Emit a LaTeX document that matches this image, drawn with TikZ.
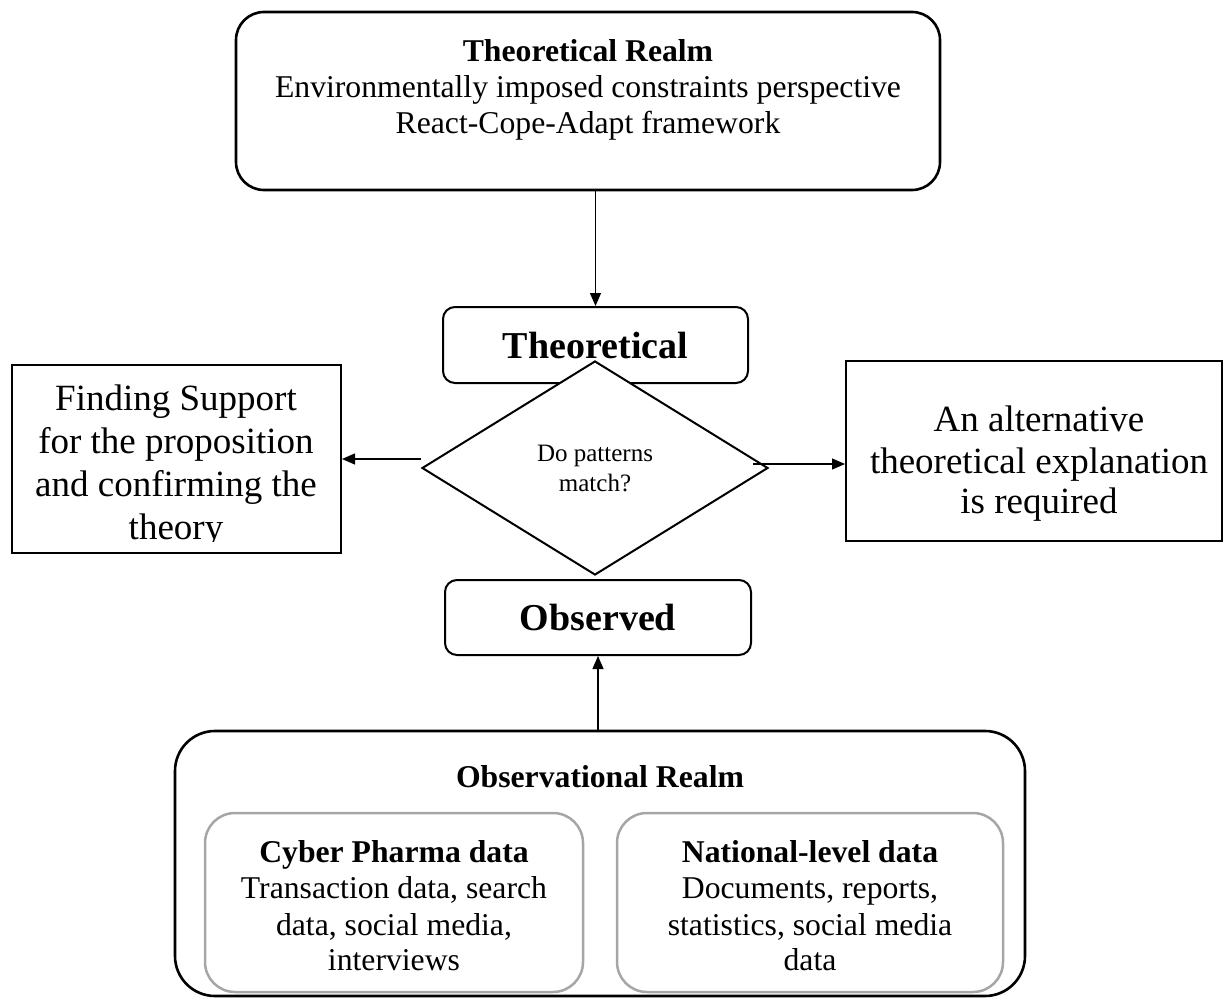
\documentclass[tikz,border=0pt]{standalone}
\usepackage{fontspec}
\setmainfont{Liberation Serif}
\usetikzlibrary{shapes.geometric,arrows.meta}
\begin{document}
\begin{tikzpicture}[x=1pt,y=-1pt,
  bigbox/.style={draw, line width=2.6pt, rounded corners=28pt, inner sep=0pt},
  outerbox/.style={draw, line width=2.6pt, rounded corners=40pt, inner sep=0pt},
  smallbox/.style={draw, line width=2pt, rounded corners=12pt, inner sep=0pt, font=\fontsize{38}{43}\selectfont\bfseries},
  plainbox/.style={draw, line width=2pt, inner sep=0pt},
  graybox/.style={draw=black!35, line width=2.5pt, rounded corners=30pt, inner sep=0pt},
  decision/.style={diamond, draw, line width=2pt, fill=white, inner sep=0pt, align=center, font=\fontsize{25}{30}\selectfont},
  arr/.style={-{Triangle[length=13pt,width=11pt]}, line width=1.2pt},
  txt/.style={anchor=base, inner sep=0pt},
  midf/.style={font=\fontsize{31.7}{36}\selectfont},
  bigf/.style={font=\fontsize{37}{43}\selectfont}
]
\useasboundingbox (0,0) rectangle (1224,998);

% top box
\node[bigbox, minimum width=704pt, minimum height=178pt] (top) at (588,101) {};
\node[txt, midf] (t1) at (588,62) {\bfseries Theoretical Realm};
\node[txt, midf] (t2) at (588,97) {Environmentally imposed constraints perspective};
\node[txt, midf] (t3) at (588,133) {React-Cope-Adapt framework};

% theoretical / observed
\node[smallbox, minimum width=305pt, minimum height=76pt] (theo) at (595.5,345) {Theoretical};
\node[smallbox, minimum width=306pt, minimum height=75pt] (obs) at (598,617.5) {Observed};

% decision diamond
\node[decision, minimum width=346pt, minimum height=214pt] (dia) at (595,468) {Do patterns\\match?};

% left box
\node[plainbox, minimum width=329pt, minimum height=188pt] (fs) at (176.5,459) {};
\begin{scope}
\clip (12,365) rectangle (341,541);
\node[txt, bigf] (f1) at (176,410) {Finding Support};
\node[txt, bigf] (f2) at (176,453) {for the proposition};
\node[txt, bigf] (f3) at (176,496) {and confirming the};
\node[txt, bigf] (f4) at (176,539) {theory};
\end{scope}

% right box
\node[plainbox, minimum width=376pt, minimum height=180pt] (alt) at (1034,451) {};
\node[txt, bigf] (a1) at (1039,431) {An alternative};
\node[txt, bigf] (a2) at (1039,473) {theoretical explanation};
\node[txt, bigf] (a3) at (1039,513) {is required};

% observational realm
\node[outerbox, minimum width=850pt, minimum height=265pt] (outer) at (600,863.5) {};
\node[txt, midf] (o1) at (600,787) {\bfseries Observational Realm};

\node[graybox, minimum width=378pt, minimum height=179pt] (cyber) at (394,902.5) {};
\node[txt, midf] (c1) at (394,862) {\bfseries Cyber Pharma data};
\node[txt, midf] (c2) at (394,898) {Transaction data, search};
\node[txt, midf] (c3) at (394,935) {data, social media,};
\node[txt, midf] (c4) at (394,970) {interviews};

\node[graybox, minimum width=386pt, minimum height=179pt] (nat) at (810,902.5) {};
\node[txt, midf] (n1) at (810,862) {\bfseries National-level data};
\node[txt, midf] (n2) at (810,898) {Documents, reports,};
\node[txt, midf] (n3) at (810,935) {statistics, social media};
\node[txt, midf] (n4) at (810,970) {data};

% connectors
\draw[arr] (theo.north |- top.south) -- (theo.north);
\draw[arr] (obs.south |- outer.north) -- (obs.south);
\coordinate (lstart) at ([yshift=9pt]dia.west);
\draw[arr] (lstart) -- (lstart -| fs.east);
\coordinate (rstart) at ([xshift=-16pt,yshift=4pt]dia.east);
\draw[arr] (rstart) -- (rstart -| alt.west);
\end{tikzpicture}
\end{document}
